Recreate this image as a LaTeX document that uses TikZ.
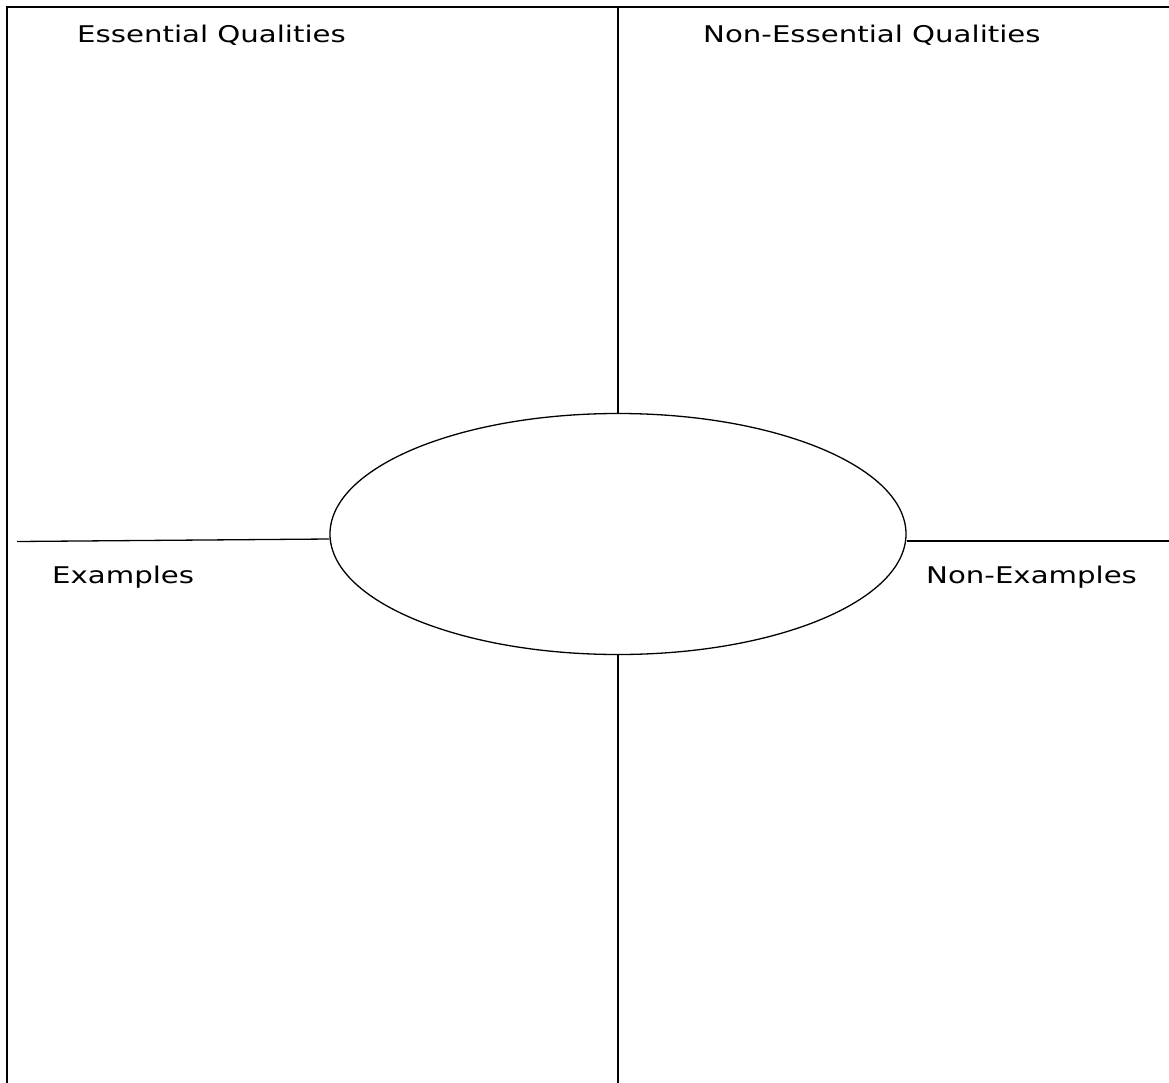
\documentclass[tikz,border=0pt]{standalone}
\usepackage{fontspec}
\setmainfont[FakeStretch=1.27]{DejaVu Sans}
\usetikzlibrary{shapes.geometric}
\tikzset{
  frame/.style={line width=2pt, line cap=rect},
  thin line/.style={line width=1.3pt},
  label/.style={anchor=base west, inner sep=0pt, font=\fontsize{23}{27}\selectfont},
  oval/.style={ellipse, draw, line width=1.3pt, minimum width=576pt, minimum height=241pt, inner sep=0pt}
}
\begin{document}
\begin{tikzpicture}[x=1pt,y=-1pt]
\useasboundingbox (0,0) rectangle (1169,1083);
\draw[frame] (7,1083) -- (7,7) -- (1169,7);
\node[oval] (c) at (618,534) {};
\coordinate (top) at (618,7);
\coordinate (bot) at (618,1083);
\coordinate (lft) at (17,541.5);
\coordinate (rgt) at (1169,541);
\draw[thin line] (top) -- (c.north);
\draw[thin line] (c.south) -- (bot);
\draw[thin line] (lft) -- ([yshift=-5pt]c.west);
\draw[thin line] ([yshift=-7pt]c.east) -- (rgt);
\node[label] (eq) at (77,43) {Essential Qualities};
\node[label] (neq) at (703,43) {Non-Essential Qualities};
\node[label] (ex) at (52,583) {Examples};
\node[label] (nex) at (926,583) {Non-Examples};
\end{tikzpicture}
\end{document}
